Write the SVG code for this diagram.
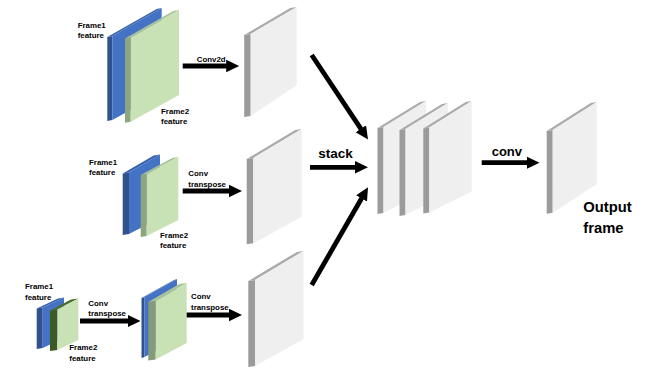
<svg xmlns="http://www.w3.org/2000/svg" width="648" height="369" viewBox="0 0 648 369">
  <defs>
    <style>
      .bg { fill: #ffffff; }
      .gf { fill: #efefef; }
      .gs { fill: #9b9b9b; }
      .gt { fill: #ababab; }
      .bf { fill: #4472c4; }
      .bs { fill: #2f528f; }
      .bt { fill: #3a63ad; }
      .lf { fill: #c8e2b6; }
      .ls { fill: #8ea67e; }
      .lt { fill: #a9c399; }
      .ds { fill: #3b5a25; }
      .dt { fill: #4a6c31; }
      .ms { fill: #849a79; }
      .lbl { font-family: "Liberation Sans", Arial, sans-serif; font-weight: bold; font-size: 7.9px; fill: #000000; }
      .big { font-family: "Liberation Sans", Arial, sans-serif; font-weight: bold; fill: #000000; }
      .shaft { stroke: #000000; stroke-width: 4.8; fill: none; marker-end: url(#head); }
    </style>
    <marker id="head" markerUnits="userSpaceOnUse" markerWidth="14" markerHeight="13" refX="0.5" refY="6.25" orient="auto">
      <path d="M0,0 L13,6.25 L0,12.5 Z" fill="#000000"/>
    </marker>
  </defs>

  <rect class="bg" x="0" y="0" width="648" height="369"/>

  <!-- row 1: frame feature pair -->
  <g id="row1-pair">
    <polygon class="bs" points="107.3,37 112.3,36 112.3,120 107.3,121"/>
    <polygon class="bt" points="107.3,37 156.7,9 161.7,8 112.3,36"/>
    <polygon class="bf" points="112.3,36 161.7,8 161.7,93 112.3,120"/>
    <polygon class="ls" points="125,38.5 130.7,37.5 130.7,121.7 125,122.7"/>
    <polygon class="lt" points="125,38.5 173.3,11 179,10 130.7,37.5"/>
    <polygon class="lf" points="130.7,37.5 179,10 179,95 130.7,121.7"/>
    <text class="lbl" x="77.7" y="27.7">Frame1</text>
    <text class="lbl" x="77.7" y="37.7">feature</text>
    <text class="lbl" x="161" y="113.5">Frame2</text>
    <text class="lbl" x="161" y="123.7">feature</text>
  </g>

  <!-- row 1: conv2d output -->
  <g id="row1-out">
    <polygon class="gs" points="244.2,35 250.7,34 250.7,116 244.2,117"/>
    <polygon class="gt" points="244.2,35 290.2,8 296.7,7 250.7,34"/>
    <polygon class="gf" points="250.7,34 296.7,7 296.7,85 250.7,116"/>
  </g>

  <!-- row 2: frame feature pair -->
  <g id="row2-pair">
    <polygon class="bs" points="122.7,173.5 129,172.5 129,234 122.7,235"/>
    <polygon class="bt" points="122.7,173.5 153.7,155.5 160,154.5 129,172.5"/>
    <polygon class="bf" points="129,172.5 160,154.5 160,218 129,234"/>
    <polygon class="ls" points="140.7,175 146.7,174 146.7,236 140.7,237"/>
    <polygon class="lt" points="140.7,175 172.3,158 178.3,157 146.7,174"/>
    <polygon class="lf" points="146.7,174 178.3,157 178.3,220 146.7,236"/>
    <text class="lbl" x="89" y="165">Frame1</text>
    <text class="lbl" x="89" y="175">feature</text>
    <text class="lbl" x="160" y="238">Frame2</text>
    <text class="lbl" x="160" y="247.7">feature</text>
  </g>

  <!-- row 2: transposed conv output -->
  <g id="row2-out">
    <polygon class="gs" points="246.7,159 253.3,158 253.3,243.3 246.7,244.3"/>
    <polygon class="gt" points="246.7,159 295.1,130 301.7,129 253.3,158"/>
    <polygon class="gf" points="253.3,158 301.7,129 301.7,216.7 253.3,243.3"/>
  </g>

  <!-- row 3: small frame feature pair -->
  <g id="row3-pair">
    <polygon class="bs" points="36.7,308.5 42.7,307.5 42.7,348 36.7,349"/>
    <polygon class="bt" points="36.7,308.5 58,298.5 64,297.5 42.7,307.5"/>
    <polygon class="bf" points="42.7,307.5 64,297.5 64,338 42.7,348"/>
    <polygon class="ds" points="50,310.5 57.3,309.5 57.3,350 50,351"/>
    <polygon class="dt" points="50,310.5 71,299.5 78.3,298.5 57.3,309.5"/>
    <polygon class="lf" points="57.3,309.5 78.3,298.5 78.3,340 57.3,350"/>
    <text class="lbl" x="25" y="288.5">Frame1</text>
    <text class="lbl" x="25" y="300">feature</text>
    <text class="lbl" x="69.3" y="350.3">Frame2</text>
    <text class="lbl" x="69.3" y="360.7">feature</text>
  </g>

  <!-- row 3: first transposed conv result -->
  <g id="row3-mid">
    <polygon class="bs" points="141.5,298 144.5,297 144.5,357 141.5,358"/>
    <polygon class="bt" points="141.5,298 174,280 177,279 144.5,297"/>
    <polygon class="bf" points="144.5,297 177,279 177,340 144.5,357"/>
    <polygon class="ms" points="148.3,302 155.7,301 155.7,359.5 148.3,360.5"/>
    <polygon class="lt" points="148.3,302 179.3,284 186.7,283 155.7,301"/>
    <polygon class="lf" points="155.7,301 186.7,283 186.7,343 155.7,359.5"/>
  </g>

  <!-- row 3: second transposed conv output -->
  <g id="row3-out">
    <polygon class="gs" points="248.3,281 255,280 255,366 248.3,367"/>
    <polygon class="gt" points="248.3,281 296.8,252 303.5,251 255,280"/>
    <polygon class="gf" points="255,280 303.5,251 303.5,339 255,366"/>
  </g>

  <!-- stacked feature maps -->
  <g id="stack">
    <polygon class="gs" points="377.5,128 383.5,127 383.5,213 377.5,214"/>
    <polygon class="gt" points="377.5,128 420,102 426,101 383.5,127"/>
    <polygon class="gf" points="383.5,127 426,101 426,191 383.5,213"/>
    <polygon class="gs" points="399.5,130 405.5,129 405.5,215 399.5,216"/>
    <polygon class="gt" points="399.5,130 442,104 448,103 405.5,129"/>
    <polygon class="gf" points="405.5,129 448,103 448,193 405.5,215"/>
    <polygon class="gs" points="423.3,128.5 429.3,127.5 429.3,212.5 423.3,213.5"/>
    <polygon class="gt" points="423.3,128.5 465.7,102 471.7,101 429.3,127.5"/>
    <polygon class="gf" points="429.3,127.5 471.7,101 471.7,191.5 429.3,212.5"/>
  </g>

  <!-- output frame -->
  <g id="output">
    <polygon class="gs" points="546.7,131 552.7,130 552.7,212.7 546.7,213.7"/>
    <polygon class="gt" points="546.7,131 590.7,103 596.7,102 552.7,130"/>
    <polygon class="gf" points="552.7,130 596.7,102 596.7,184 552.7,212.7"/>
    <text class="big" x="583.3" y="211.7" font-size="14.8">Output</text>
    <text class="big" x="583.3" y="232.7" font-size="14.8">frame</text>
  </g>

  <!-- connectors -->
  <g id="connectors">
    <line class="shaft" x1="182.7" y1="66" x2="226.7" y2="66"/>
    <line class="shaft" x1="182.7" y1="191" x2="229.5" y2="191"/>
    <line class="shaft" x1="80" y1="321" x2="128" y2="321"/>
    <line class="shaft" x1="186.7" y1="315" x2="229.5" y2="315"/>
    <line class="shaft" x1="311.7" y1="55" x2="361.1" y2="129.2"/>
    <line class="shaft" x1="310" y1="167.3" x2="355.5" y2="167.3"/>
    <line class="shaft" x1="311.7" y1="285" x2="361.8" y2="198"/>
    <line class="shaft" x1="481.7" y1="162.7" x2="527" y2="162.7"/>
    <text class="lbl" x="196.7" y="61.7">Conv2d</text>
    <text class="lbl" x="188.3" y="176">Conv</text>
    <text class="lbl" x="188.3" y="186.5">transpose</text>
    <text class="lbl" x="88.3" y="305.5">Conv</text>
    <text class="lbl" x="88.3" y="316">transpose</text>
    <text class="lbl" x="191" y="299.3">Conv</text>
    <text class="lbl" x="191" y="310">transpose</text>
    <text class="big" x="318.3" y="158.3" font-size="13.5">stack</text>
    <text class="big" x="491.7" y="156" font-size="13">conv</text>
  </g>
</svg>
